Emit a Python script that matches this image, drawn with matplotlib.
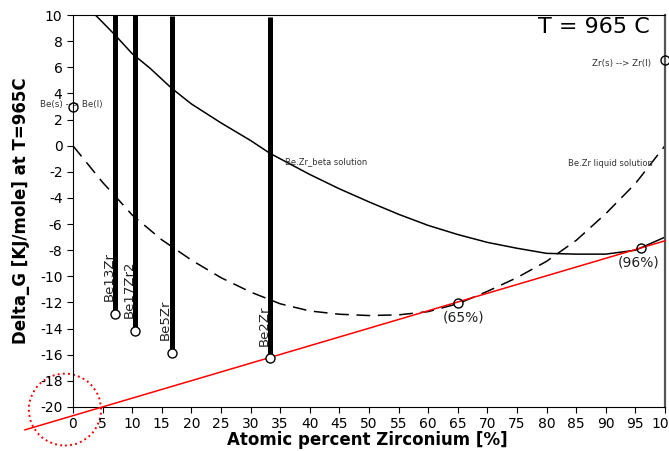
import numpy as np
import matplotlib
matplotlib.use("Agg")
import matplotlib.pyplot as plt
from matplotlib.patches import Ellipse

plt.rcParams['font.family'] = 'DejaVu Sans'
plt.rcParams['axes.unicode_minus'] = False

# Be.Zr_beta solution (solid)
beta_x = [3.8, 5, 7.14, 10, 13, 16.67, 20, 25, 30, 33.3, 40, 45, 50, 55, 60, 65, 70, 75, 80, 85, 90, 95, 100]
beta_y = [10.0, 9.45, 8.46, 7.05, 5.94, 4.4, 3.2, 1.75, 0.4, -0.59, -2.2, -3.3, -4.3, -5.25, -6.1,
          -6.8, -7.4, -7.85, -8.24, -8.3, -8.3, -8.0, -7.0]
# Be.Zr liquid solution (dashed)
liquid_x = [0, 5, 7.14, 10, 15, 20, 25, 30, 35, 40, 45, 50, 55, 60, 65, 70, 75, 80, 85, 90, 95, 100]
liquid_y = [0, -2.8, -3.86, -5.3, -7.2, -8.75, -10.1, -11.2, -12.1, -12.65, -12.9, -13.0, -12.95,
            -12.7, -12.1, -11.15, -10.1, -8.85, -7.25, -5.2, -2.9, 0.0]

# compounds
comp_names = ['Be13Zr', 'Be17Zr2', 'Be5Zr', 'Be2Zr']
comp_x = [7.14, 10.53, 16.67, 33.33]
comp_g = [-12.85, -14.17, -15.85, -16.25]
comp_top = [10.0, 10.0, 9.9, 9.85]

# common tangent line (red)
tangent_x = [-8.1, 100]
tangent_y = [-21.75, -7.28]
tangent_pts_x = [65, 96]
tangent_pts_y = [-12.07, -7.86]
tangent_labels = ['(65%)', '(96%)']

# pure element melting
melt_x = [0, 100]
melt_y = [2.93, 6.55]

fig = plt.figure(figsize=(6.69, 4.51), dpi=100)
ax = fig.add_axes([0.109, 0.0976, 0.885, 0.869])

ax.plot(beta_x, beta_y, color='black', lw=1.1)
ax.plot(liquid_x, liquid_y, color='black', lw=1.1, dashes=(9, 5))
ax.plot(tangent_x, tangent_y, color='red', lw=1.1, clip_on=False, zorder=3)

for name, x, g, top in zip(comp_names, comp_x, comp_g, comp_top):
    ax.plot([x, x], [g, top], color='black', lw=3.6, solid_capstyle='butt', zorder=4)
    ax.plot(x, g, 'o', ms=6.5, mfc='white', mec='black', mew=1.0, zorder=5)
    ax.text(x - 1.0, g + 0.95, name, rotation=90, ha='center', va='bottom',
            fontsize=9.5, color='#222222')

ax.plot(tangent_pts_x, tangent_pts_y, 'o', ms=6.5, mfc='none', mec='black', mew=1.0, zorder=5)
for x, y, lab, dx in zip(tangent_pts_x, tangent_pts_y, tangent_labels, [1.0, -0.4]):
    ax.text(x + dx, y - 0.55, lab, ha='center', va='top', fontsize=10, color='#222222')

ax.plot(melt_x, melt_y, 'o', ms=6.5, mfc='none', mec='black', mew=1.0, clip_on=False, zorder=5)
ax.text(-0.2, 3.15, 'Be(s) --> Be(l)', ha='center', va='center', fontsize=6.3, color='#333333')
ax.text(97.6, 6.3, 'Zr(s) --> Zr(l)', ha='right', va='center', fontsize=6.3, color='#333333')
ax.text(35.8, -1.2, 'Be.Zr_beta solution', ha='left', va='center', fontsize=6, color='#333333')
ax.text(83.6, -1.35, 'Be.Zr liquid solution', ha='left', va='center', fontsize=6, color='#333333')
ax.text(97.5, 9.85, 'T = 965 C', ha='right', va='top', fontsize=16)

circ = Ellipse((-1.35, -20.2), width=12.2, height=5.5, fill=False, ec='red', ls=':', lw=1.4,
               clip_on=False)
ax.add_patch(circ)

ax.set_xlim(0, 100)
ax.set_ylim(-20, 10)
ax.set_xticks(np.arange(0, 101, 5))
ax.set_yticks(np.arange(-20, 11, 2))
ax.tick_params(direction='out', length=4, labelsize=10)
ax.spines['right'].set_color('#555555')
ax.spines['right'].set_linewidth(1.6)

ax.set_xlabel('Atomic percent Zirconium [%]', fontsize=12, fontweight='bold')
ax.set_ylabel('Delta_G [KJ/mole] at T=965C', fontsize=12, fontweight='bold')
ax.xaxis.set_label_coords(0.497, -0.062)
ax.yaxis.set_label_coords(-0.073, 0.5)

fig.savefig('out.png', dpi=100)
